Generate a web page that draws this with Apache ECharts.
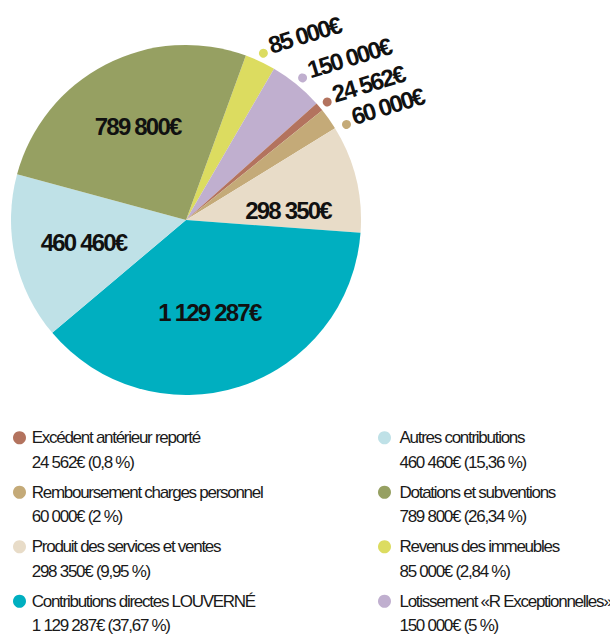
<!DOCTYPE html>
<html>
<head>
<meta charset="utf-8">
<script src="https://cdn.jsdelivr.net/npm/echarts@6/dist/echarts.min.js"></script>
<style>
  html, body { margin: 0; padding: 0; background: #fff; }
  #chart { width: 610px; height: 637px; }
  /* the original uses a condensed face; tighten the tracking instead */
  #chart svg text { letter-spacing: -0.075em; }
</style>
</head>
<body>
<div id="chart"></div>
<script>
// slices, clockwise from the top of the pie
const names = [
  "Revenus des immeubles",
  "Lotissement «R Exceptionnelles»",
  "Excédent antérieur reporté",
  "Remboursement charges personnel",
  "Produit des services et ventes",
  "Contributions directes LOUVERNÉ",
  "Autres contributions",
  "Dotations et subventions"
];
const values = [85000, 150000, 24562, 60000, 298350, 1129287, 460460, 789800];
const percents = ["2,84", "5", "0,8", "2", "9,95", "37,67", "15,36", "26,34"];
const colors = ["#dcdc60", "#c0afcf", "#b3735e", "#c4aa78", "#e8dcc8", "#00afc0", "#bfe1e7", "#96a062"];

const legendLeft = [
  "Excédent antérieur reporté",
  "Remboursement charges personnel",
  "Produit des services et ventes",
  "Contributions directes LOUVERNÉ"
];
const legendRight = [
  "Autres contributions",
  "Dotations et subventions",
  "Revenus des immeubles",
  "Lotissement «R Exceptionnelles»"
];

const FONT = "'Liberation Sans', Arial, sans-serif";
const total = values.reduce((a, b) => a + b, 0);

function euro(v) {
  return String(v).replace(/\B(?=(\d{3})+(?!\d))/g, " ") + "€";
}

// leading empty line keeps the name level with the legend dot
const legendText = (name) => {
  const i = names.indexOf(name);
  return "\n" + name + "\n" + euro(values[i]) + " (" + percents[i] + " %)";
};

const sliceData = names.map((n, i) => ({ name: n, value: values[i], itemStyle: { color: colors[i] } }));

// label carrier: small slices get an outside label with a coloured dot
const labelData = names.map((n, i) => {
  const small = values[i] / total < 0.06;
  return {
    name: n,
    value: values[i],
    label: small ? {
      position: "outside",
      rotate: 17,
      distanceToLabelLine: -8.5,
      formatter: "{d|}{v|" + euro(values[i]) + "}",
      rich: {
        d: { width: 9, height: 9, borderRadius: 4.5, backgroundColor: colors[i], verticalAlign: "bottom" },
        v: { fontSize: 24, lineHeight: 20, fontWeight: "bold", fontFamily: FONT, color: "#111", padding: [0, 0, 0, 3] }
      }
    } : { position: "inside" }
  };
});

const legendBase = {
  orient: "vertical",
  top: 401,
  height: 260,
  padding: 0,
  icon: "circle",
  itemHeight: 13,
  itemGap: -19,
  selectedMode: false,
  formatter: legendText,
  textStyle: {
    fontFamily: FONT,
    fontSize: 17,
    lineHeight: 24.5,
    color: "#1a1a1a"
  }
};

const chart = echarts.init(document.getElementById("chart"), null, { renderer: "svg" });
chart.setOption({
  animation: false,
  legend: [
    Object.assign({}, legendBase, { left: 13, itemWidth: 14.5, data: legendLeft }),
    Object.assign({}, legendBase, { left: 378, itemWidth: 20, data: legendRight })
  ],
  series: [
    {
      type: "pie",
      center: [186, 220],
      radius: 175,
      startAngle: 70,
      clockwise: true,
      avoidLabelOverlap: false,
      itemStyle: { borderWidth: 0 },
      label: { show: false },
      labelLine: { show: false },
      emphasis: { disabled: true },
      data: sliceData
    },
    {
      type: "pie",
      center: [186, 220],
      radius: [29, 175],
      startAngle: 70,
      clockwise: true,
      silent: true,
      z: 3,
      avoidLabelOverlap: false,
      itemStyle: { color: "rgba(0,0,0,0)", borderWidth: 0 },
      label: {
        show: true,
        fontFamily: FONT,
        fontSize: 24,
        fontWeight: "bold",
        color: "#111",
        formatter: (p) => euro(p.value)
      },
      labelLine: { show: false, length: 13.5, length2: 0 },
      labelLayout: (p) => {
        const n = names[p.dataIndex];
        if (n === "Remboursement charges personnel") return { dx: 6, dy: 11.5 };
        if (n === "Produit des services et ventes") return { dy: 15 };
        if (n === "Contributions directes LOUVERNÉ") return { dx: -9, dy: -7 };
        return {};
      },
      emphasis: { disabled: true },
      data: labelData
    }
  ]
});
</script>
</body>
</html>
